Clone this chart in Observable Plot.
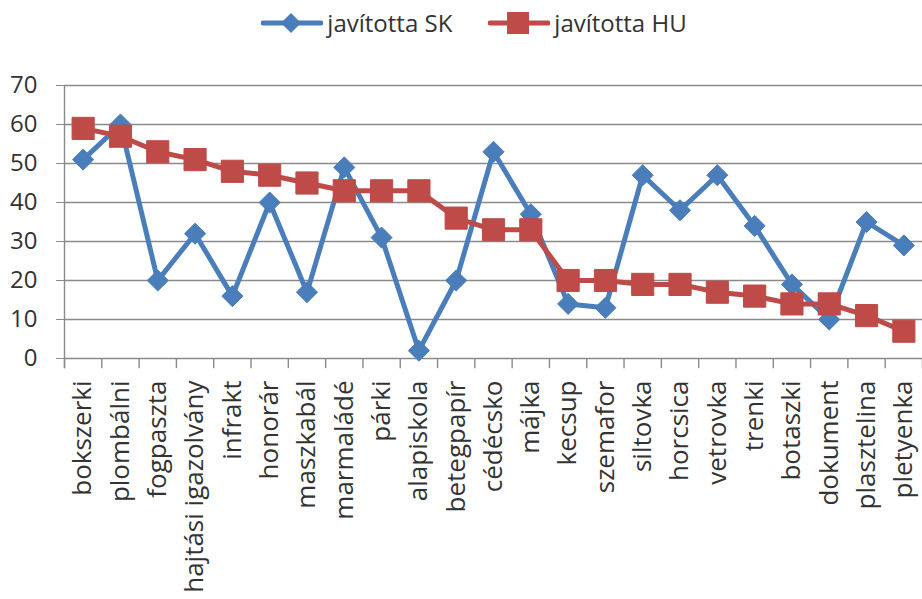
<!DOCTYPE html>
<html><head><meta charset="utf-8">
<script src="https://cdn.jsdelivr.net/npm/d3@7"></script>
<script src="https://cdn.jsdelivr.net/npm/@observablehq/plot@0.6"></script>
<style>
body{margin:0;background:#fff;font-family:"Open Sans",sans-serif;color:#333;}
#legend{height:45px;display:flex;justify-content:center;align-items:center;padding-left:26px;box-sizing:border-box;font-size:24px;}
.item{display:flex;align-items:center;margin:0 18px;}
.item svg{margin-right:4px;}
</style></head><body>
<div id="legend"></div><div id="chart"></div>
<script>
const categories = ["bokszerki","plombálni","fogpaszta","hajtási igazolvány","infrakt","honorár","maszkabál","marmaládé","párki","alapiskola","betegpapír","cédécsko","májka","kecsup","szemafor","siltovka","horcsica","vetrovka","trenki","botaszki","dokument","plasztelina","pletyenka"];
const skValues = [51,60,20,32,16,40,17,49,31,2,20,53,37,14,13,47,38,47,34,19,10,35,29];
const huValues = [59,57,53,51,48,47,45,43,43,43,36,33,33,20,20,19,19,17,16,14,14,11,7];
const yTicks = [0,10,20,30,40,50,60,70];
const seriesNames = ["javította SK","javította HU"];
const seriesColors = ["#4A7EBB","#BE4B48"];

const rows = categories.map((c,i)=>({i, cat:c, sk:skValues[i], hu:huValues[i]}));
const n = categories.length;
const bounds = d3.range(n+1).map(k=>k-0.5);

// legend
const leg = document.getElementById("legend");
seriesNames.forEach((name,k)=>{
  const col = seriesColors[k];
  const marker = k===0
    ? `<path d="M30 1 L40 11 L30 21 L20 11 Z" fill="${col}"/>`
    : `<rect x="19" y="0" width="22" height="22" fill="${col}"/>`;
  leg.insertAdjacentHTML("beforeend",
    `<span class="item"><svg width="62" height="22"><line x1="2" y1="11" x2="60" y2="11" stroke="${col}" stroke-width="5" stroke-linecap="round"/>${marker}</svg><span>${name}</span></span>`);
});

const chart = Plot.plot({
  width: 922, height: 554,
  marginTop: 40, marginLeft: 64, marginRight: 0, marginBottom: 241,
  style: {fontFamily:"Open Sans", fontSize:"24px", color:"#333", background:"#fff", overflow:"visible"},
  x: {type:"linear", domain:[-0.5, n-0.5]},
  y: {domain:[0,70]},
  marks: [
    Plot.ruleY(yTicks, {stroke:"#8a8a8a", strokeWidth:1.4}),
    Plot.ruleX([-0.5], {y1:-2.6, y2:70, stroke:"#8a8a8a", strokeWidth:1.4}),
    Plot.ruleX(bounds, {y1:0, y2:-2.6, stroke:"#8a8a8a", strokeWidth:1.4}),
    Plot.axisY(yTicks, {tickSize:8, tickPadding:19, stroke:"#8a8a8a", label:null, fontSize:24}),
    Plot.axisX(d3.range(n), {tickSize:0, tickPadding:22, tickRotate:-90, tickFormat:i=>categories[i], label:null, fontSize:26}),
    Plot.line(rows, {x:"i", y:"sk", stroke:seriesColors[0], strokeWidth:5}),
    Plot.dot(rows, {x:"i", y:"sk", symbol:"diamond2", r:9.5, fill:seriesColors[0], stroke:seriesColors[0], strokeWidth:1}),
    Plot.line(rows, {x:"i", y:"hu", stroke:seriesColors[1], strokeWidth:5}),
    Plot.dot(rows, {x:"i", y:"hu", symbol:"square", r:12.5, fill:seriesColors[1], stroke:seriesColors[1], strokeWidth:1})
  ]
});
document.getElementById("chart").appendChild(chart);
</script>
</body></html>
